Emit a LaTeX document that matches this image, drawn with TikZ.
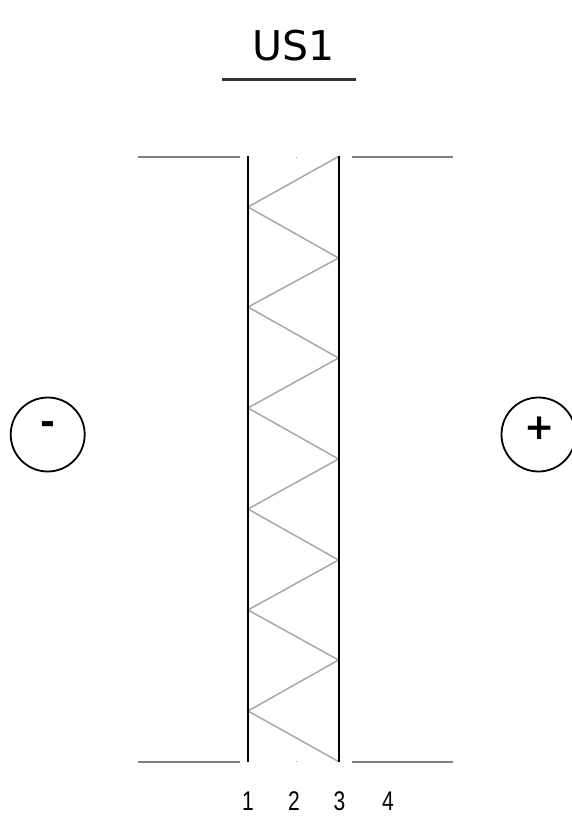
\documentclass[tikz,border=0pt]{standalone}
\usepackage{fontspec}
\setmainfont{DejaVu Sans}
\newfontfamily\numfont[FakeStretch=0.78]{Liberation Sans}
\definecolor{wallgray}{gray}{0.66}
\definecolor{leadgray}{gray}{0.5}
\tikzset{
  x=1pt,y=-1pt,
  lead/.style={draw=leadgray,line width=2pt},
  wall/.style={draw=black,line width=2.5pt},
  zig/.style={draw=wallgray,line width=1.5pt,line join=miter},
  pole/.style={circle,draw=black,line width=1.8pt,minimum size=74pt,inner sep=0pt},
  sign/.style={inner sep=0pt,font=\fontsize{36}{36}\selectfont\bfseries},
  num/.style={inner sep=0pt,font=\fontsize{27}{27}\selectfont\numfont},
  title/.style={inner sep=0pt,font=\fontsize{41}{41}\selectfont},
  speck/.style={fill=wallgray,inner sep=0pt,minimum size=1pt}
}
\begin{document}
\begin{tikzpicture}
\useasboundingbox (0,0) rectangle (572,831);
\clip (0,0) rectangle (572,831);
\node[title] (ttl) at (293.5,45.5) {US1};
\coordinate (ula) at (222,79.5);
\coordinate (ulb) at (356,79.5);
\draw[draw=black!80,line width=2.4pt] (ula) -- (ulb);
\draw[lead] (138,156.5) -- (240,156.5);
\draw[lead] (352,156.5) -- (453,156.5);
\draw[lead] (138,761.5) -- (240,761.5);
\draw[lead] (352,761.5) -- (453,761.5);
\draw[zig] (338.5,156.5) -- (248,207) -- (338.5,258) -- (248,307) -- (338.5,358)
  -- (248,408) -- (338.5,459) -- (248,509) -- (338.5,560) -- (248,610)
  -- (338.5,660) -- (248,711) -- (338.5,761.5);
\draw[wall] (248,156) -- (248,762);
\draw[wall,line width=2pt] (338.5,156) -- (338.5,762);
\node[speck] (s1) at (296,157) {};
\node[speck] (s2) at (296,761) {};
\node[pole] (minus) at (47.7,434.5) {};
\node[pole] (plus) at (538.5,434.5) {};
\node[sign] (mt) at (48,428) {-};
\node[sign] (pt) at (539.2,428.7) {+};
\node[num] (n1) at (248,801) {1};
\node[num] (n2) at (294,801) {2};
\node[num] (n3) at (339.5,801) {3};
\node[num] (n4) at (388,801) {4};
\end{tikzpicture}
\end{document}
